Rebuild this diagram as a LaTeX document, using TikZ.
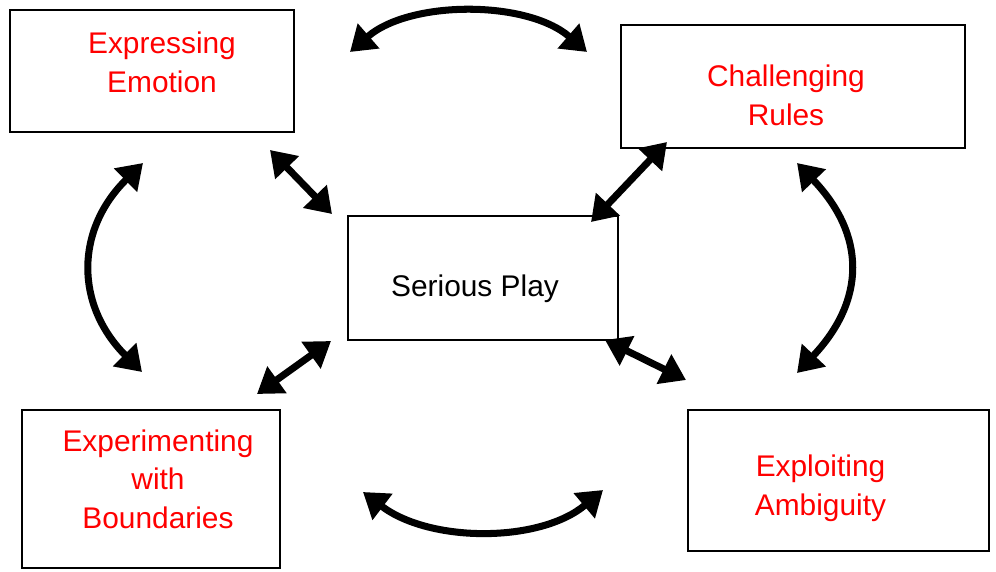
\documentclass[tikz,border=0pt]{standalone}
\usepackage{fontspec}
\setmainfont{Liberation Sans}
\definecolor{playred}{HTML}{FF0000}
\usetikzlibrary{arrows.meta, positioning}

\begin{document}
\begin{tikzpicture}[x=0.02cm, y=-0.02cm,
      playbox/.style={draw=black, line width=1.1pt, fill=white},
      playtext/.style={font=\fontsize{17}{22}\selectfont, align=center,
                    text=playred, inner sep=0pt},
      arr/.style={{Triangle[length=14pt, width=18pt]}-{Triangle[length=14pt, width=18pt]},
                    line width=4pt, black}
    ]
      \useasboundingbox (0,0) rectangle (996,571);

      \node[playbox, minimum width=284*0.02cm, minimum height=122*0.02cm,
            label={[playtext, xshift=10*0.02cm, yshift=9*0.02cm]center:{Expressing\\Emotion}}] (ee) at (152,71) {};
      \node[playbox, minimum width=344*0.02cm, minimum height=123*0.02cm,
            label={[playtext, xshift=-7*0.02cm, yshift=-8.5*0.02cm]center:{Challenging\\Rules}}] (cr) at (793,86.5) {};
      \node[playbox, minimum width=270*0.02cm, minimum height=124*0.02cm,
            label={[playtext, text=black, xshift=-8*0.02cm, yshift=-11*0.02cm]center:{Serious Play}}] (sp) at (483,278) {};
      \node[playbox, minimum width=258*0.02cm, minimum height=158*0.02cm,
            label={[playtext, xshift=7*0.02cm, yshift=10*0.02cm]center:{Experimenting\\with\\Boundaries}}] (eb) at (151,489) {};
      \node[playbox, minimum width=301*0.02cm, minimum height=141*0.02cm,
            label={[playtext, xshift=-18*0.02cm, yshift=-7.5*0.02cm]center:{Exploiting\\Ambiguity}}] (ea) at (838.5,480.5) {};

      % ends of the connectors
      \coordinate (ee-sp1) at (270,150);
      \coordinate (ee-sp2) at (332,214);
      \coordinate (cr-sp1) at (667,142);
      \coordinate (cr-sp2) at (591,222);
      \coordinate (sp-ea1) at (605,340);
      \coordinate (sp-ea2) at (686,380);
      \coordinate (sp-eb1) at (331,341);
      \coordinate (sp-eb2) at (257,394);
      \coordinate (top1) at (350,52);
      \coordinate (top2) at (587,52);
      \coordinate (left1) at (143,163);
      \coordinate (left2) at (142,372);
      \coordinate (right1) at (797,163);
      \coordinate (right2) at (797,373);
      \coordinate (bot1) at (363,492);
      \coordinate (bot2) at (603,490);

      \draw[arr] (ee-sp1) -- (ee-sp2);
      \draw[arr] (cr-sp1) -- (cr-sp2);
      \draw[arr] (sp-ea1) -- (sp-ea2);
      \draw[arr] (sp-eb1) -- (sp-eb2);
      \draw[arr] (top1) .. controls (410,0) and (527,0) .. (top2);
      \draw[arr] (left1) .. controls (75,230) and (75,305) .. (left2);
      \draw[arr] (right1) .. controls (866,235) and (866,300) .. (right2);
      \draw[arr] (bot1) .. controls (430,543) and (540,543) .. (bot2);
    \end{tikzpicture}
\end{document}
